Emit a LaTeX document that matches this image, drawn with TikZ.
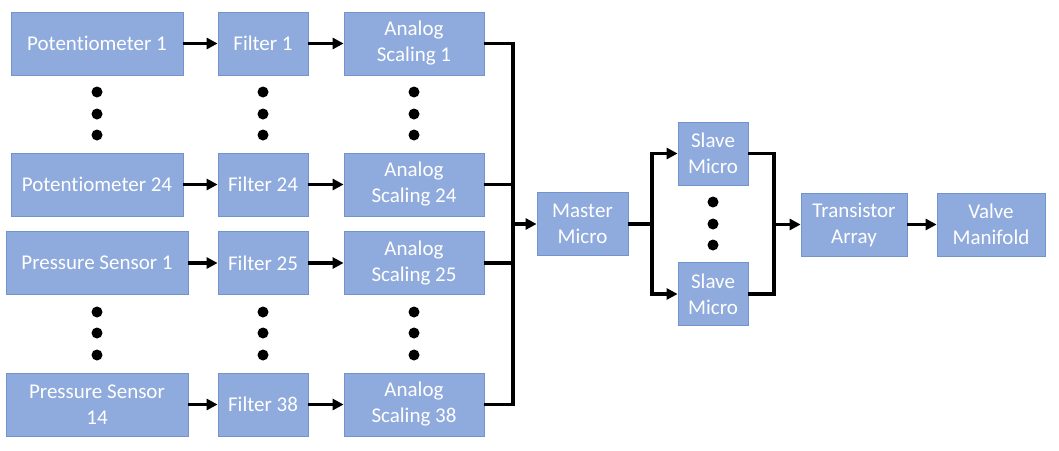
\documentclass[tikz,border=0pt]{standalone}
\usepackage{fontspec}
\setmainfont[Ligatures=NoCommon]{Carlito}
\usetikzlibrary{arrows.meta}
\definecolor{boxfill}{HTML}{8FAADC}
\definecolor{boxline}{HTML}{7393CC}
\tikzset{
  block/.style={draw=boxline, line width=0.8pt, fill=boxfill, text=white,
    inner sep=0pt, minimum height=63pt, align=center,
    font=\fontsize{21}{26}\selectfont},
  wire/.style={line width=3.3pt},
  arr/.style={line width=3.3pt, -{Triangle[length=11pt,width=11pt]}}
}
\begin{document}
\begin{tikzpicture}[x=1pt,y=-1pt]
\useasboundingbox (0,0) rectangle (1059,450);
% sensors
\node[block, minimum width=172pt] (p1) at (97,43.5) {Potentiometer 1};
\node[block, minimum width=172pt] (p24) at (97,184.5) {Potentiometer 24};
\node[block, minimum width=182pt] (ps1) at (97,263) {Pressure Sensor 1};
\node[block, minimum width=182pt] (ps14) at (97,404.5) {Pressure Sensor\\14};
% filters
\node[block, minimum width=90pt] (f1) at (263,43.5) {Filter 1};
\node[block, minimum width=90pt] (f24) at (263,184.5) {Filter 24};
\node[block, minimum width=90pt] (f25) at (263,263) {Filter 25};
\node[block, minimum width=90pt] (f38) at (263,404.5) {Filter 38};
% scaling
\node[block, minimum width=140pt] (a1) at (414,43.5) {Analog\\Scaling 1};
\node[block, minimum width=140pt] (a24) at (414,184.5) {Analog\\Scaling 24};
\node[block, minimum width=140pt] (a25) at (414,263) {Analog\\Scaling 25};
\node[block, minimum width=140pt] (a38) at (414,404.5) {Analog\\Scaling 38};
% micros and outputs
\node[block, minimum width=91pt] (master) at (582.5,224) {Master\\Micro};
\node[block, minimum width=70pt] (s1) at (713,153.5) {Slave\\Micro};
\node[block, minimum width=70pt] (s2) at (713,294) {Slave\\Micro};
\node[block, minimum width=106pt] (trans) at (854,224.5) {Transistor\\Array};
\node[block, minimum width=108pt] (valve) at (991,224.5) {Valve\\Manifold};
\coordinate (bus) at (513,224);
\coordinate (split) at (652,224);
\coordinate (join) at (774,224.5);
% dots
\foreach \x in {97,263,414}
  \foreach \y in {92,114,135,312,333,355}
    \fill (\x,\y) circle (5.5pt);
\foreach \y in {202,224,245}
  \fill (713,\y) circle (5.5pt);
% rows
\draw[arr] (p1) -- (f1);
\draw[arr] (f1) -- (a1);
\draw[arr] (p24) -- (f24);
\draw[arr] (f24) -- (a24);
\draw[arr] (ps1) -- (f25);
\draw[arr] (f25) -- (a25);
\draw[arr] (ps14) -- (f38);
\draw[arr] (f38) -- (a38);
% bus
\draw[wire] (a1.east) -| (bus) |- (a38.east);
\draw[wire] (a24.east) -- (a24.east -| bus);
\draw[wire] (a25.east) -- (a25.east -| bus);
\draw[arr] (bus) -- (master.west);
\draw[wire] (master.east) -- (split);
\draw[arr] (split) |- (s1.west);
\draw[arr] (split) |- (s2.west);
\draw[wire] (s1.east) -| (join) |- (s2.east);
\draw[arr] (join) -- (trans.west);
\draw[arr] (trans) -- (valve);
\end{tikzpicture}
\end{document}
